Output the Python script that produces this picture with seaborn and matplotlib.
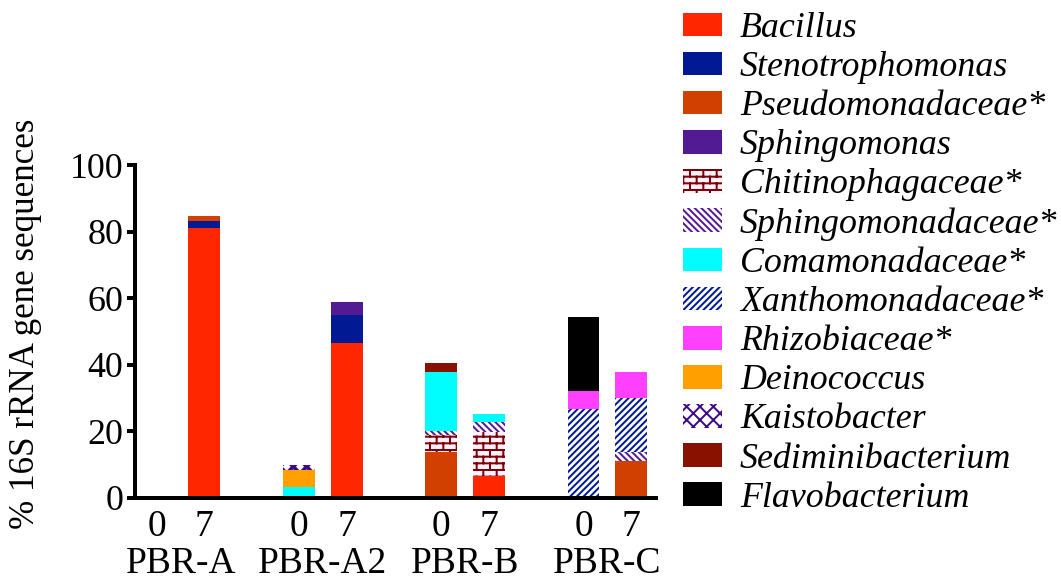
import warnings
import numpy as np
import matplotlib
matplotlib.use("Agg")
import matplotlib.pyplot as plt
from matplotlib import hatch as mhatch
from matplotlib.path import Path
import seaborn as sns

# ---------------------------------------------------------------- data
samples = ["PBR-A", "PBR-A2", "PBR-B", "PBR-C"]
days = ["0", "7"]
bar_pos = [0, 1, 3, 4, 6, 7, 9, 10]          # day 0 / day 7 for each reactor

taxa = ["Bacillus", "Stenotrophomonas", "Pseudomonadaceae*", "Sphingomonas",
        "Chitinophagaceae*", "Sphingomonadaceae*", "Comamonadaceae*",
        "Xanthomonadaceae*", "Rhizobiaceae*", "Deinococcus", "Kaistobacter",
        "Sediminibacterium", "Flavobacterium"]

#                 A0    A7   A2-0  A2-7  B0    B7   C0    C7
bacillus        = [0.0, 81.2, 0.0, 46.6, 0.0,  6.6, 0.0,  0.0]
stenotroph      = [0.0,  2.0, 0.0,  8.3, 0.0,  0.0, 0.0,  0.5]
pseudomonad     = [0.0,  1.5, 0.0,  0.0, 13.8, 0.0, 0.0, 10.6]
sphingomonas    = [0.0,  0.0, 0.0,  3.9, 0.0,  0.0, 0.0,  0.0]
chitinophag     = [0.0,  0.0, 0.0,  0.0, 5.1, 13.3, 0.0,  0.0]
sphingomonad    = [0.0,  0.0, 0.0,  0.0, 1.2,  2.9, 0.0,  2.8]
comamonad       = [0.0,  0.0, 3.2,  0.0, 17.7, 2.4, 0.0,  0.0]
xanthomonad     = [0.0,  0.0, 0.0,  0.0, 0.0,  0.0, 26.7, 16.1]
rhizobiac       = [0.0,  0.0, 0.0,  0.0, 0.0,  0.0, 5.4,  7.8]
deinococcus     = [0.0,  0.0, 5.2,  0.0, 0.0,  0.0, 0.0,  0.0]
kaistobacter    = [0.0,  0.0, 1.5,  0.0, 0.0,  0.0, 0.0,  0.0]
sediminibact    = [0.0,  0.0, 0.0,  0.0, 2.7,  0.0, 0.0,  0.0]
flavobacterium  = [0.0,  0.0, 0.0,  0.0, 0.0,  0.0, 22.3, 0.0]

values = [bacillus, stenotroph, pseudomonad, sphingomonas, chitinophag,
          sphingomonad, comamonad, xanthomonad, rhizobiac, deinococcus,
          kaistobacter, sediminibact, flavobacterium]

# face colour, hatch colour, hatch pattern
styles = [
    ("#FF2600", None, None),
    ("#011993", None, None),
    ("#D24000", None, None),
    ("#531B93", None, None),
    ("#FFF0FF", "#7F0000", "b"),      # brick
    ("#FFFFFF", "#531B93", "\\" * 6),
    ("#00FDFF", None, None),
    ("#FFFFFF", "#011993", "/" * 6),
    ("#FF40FF", None, None),
    ("#FFA000", None, None),
    ("#FFFFFF", "#3E0A8C", "xxx"),
    ("#881100", None, None),
    ("#000000", None, None),
]


# ---------------------------------------------------------------- brick hatch
class BrickHatch(mhatch.HatchPatternBase):
    """Running-bond brick pattern, selected with the 'b' hatch character."""

    def __init__(self, hatch, density):
        self.rows = hatch.count("b") * density * 3
        n = self.rows
        self.num_vertices = (n * n + 3 * n) if n else 0

    def set_vertices_and_codes(self, vertices, codes):
        n = self.rows
        step = 1.0 / n
        w = 2.0 / n
        ys = (np.arange(n) + 0.5) * step
        segs = []
        for y in ys:
            segs.append(((0.0, y), (1.0, y)))
        for k in range(n):
            x0 = (np.arange(n // 2) + 0.25 + 0.5 * (k % 2)) * w
            y_lo, y_hi = ys[k], ys[k] + step
            for x in x0:
                if y_hi <= 1.0:
                    segs.append(((x, y_lo), (x, y_hi)))
                else:
                    segs.append(((x, y_lo), (x, 1.0)))
                    segs.append(((x, 0.0), (x, y_hi - 1.0)))
        for i, (a, b) in enumerate(segs):
            vertices[2 * i] = a
            vertices[2 * i + 1] = b
            codes[2 * i] = Path.MOVETO
            codes[2 * i + 1] = Path.LINETO


mhatch._hatch_types.append(BrickHatch)
warnings.filterwarnings("ignore")

# ---------------------------------------------------------------- style
sns.set_style("ticks")
plt.rcParams["font.family"] = ["Liberation Serif", "DejaVu Serif"]
plt.rcParams["hatch.linewidth"] = 1.2
for key in ("text.color", "axes.labelcolor", "xtick.color", "ytick.color",
            "axes.edgecolor"):
    plt.rcParams[key] = "black"

DPI = 120
fig = plt.figure(figsize=(1061 / DPI, 583 / DPI), dpi=DPI)
ax = fig.add_axes([135 / 1061, 1 - 498 / 583, (656 - 135) / 1061, (498 - 165) / 583])

bottom = np.zeros(len(bar_pos))
handles = []
for name, vals, (fc, hc, hp) in zip(taxa, values, styles):
    kws = dict(bottom=bottom.copy(), linewidth=0)
    if hp is not None:
        kws.update(hatch=hp, edgecolor=hc)
    else:
        kws.update(edgecolor=fc)
    sns.barplot(x=bar_pos, y=vals, native_scale=True, color=fc, saturation=1,
                width=0.675, errorbar=None, ax=ax, **kws)
    cont = ax.containers[-1]
    if hp == "xxx":
        for p in cont.patches:
            if hasattr(p, "set_hatch_linewidth"):
                p.set_hatch_linewidth(2.2)
    handles.append(cont.patches[0])
    bottom += np.asarray(vals)

# ---------------------------------------------------------------- axes
ax.set_xlim(-0.464, 10.53)
ax.set_ylim(0, 100)
ax.set_yticks([0, 20, 40, 60, 80, 100])
ax.set_xticks(bar_pos)
ax.set_xticklabels(days * len(samples))
sns.despine(ax=ax)
for s in ("left", "bottom"):
    ax.spines[s].set_linewidth(2.4)
    ax.spines[s].set_color("black")
ax.tick_params(axis="y", length=5, width=2.4, pad=2, labelsize=21.5, color="black")
ax.tick_params(axis="x", length=0, pad=7, labelsize=22.5)

ax.set_ylabel("% 16S rRNA gene sequences", fontsize=21, va="center",
              rotation_mode="anchor")
ax.yaxis.set_label_coords(-0.211, 0.524)

for i, name in enumerate(samples):
    xc = (bar_pos[2 * i] + bar_pos[2 * i + 1]) / 2
    ax.text(xc, -0.198, name, transform=ax.get_xaxis_transform(),
            ha="center", va="center", fontsize=22.5)

# ---------------------------------------------------------------- legend
fs = 21.5
fs_px = fs * DPI / 72
leg = fig.legend(handles, taxa, loc="upper left",
                 bbox_to_anchor=(683 / 1061, 1 - 12 / 583),
                 frameon=False, borderpad=0, borderaxespad=0,
                 handlelength=39 / fs_px, handleheight=23 / fs_px,
                 handletextpad=18 / fs_px, labelspacing=0.17,
                 prop={"family": "Liberation Serif", "style": "italic", "size": fs})

fig.savefig("out.png", dpi=DPI)
